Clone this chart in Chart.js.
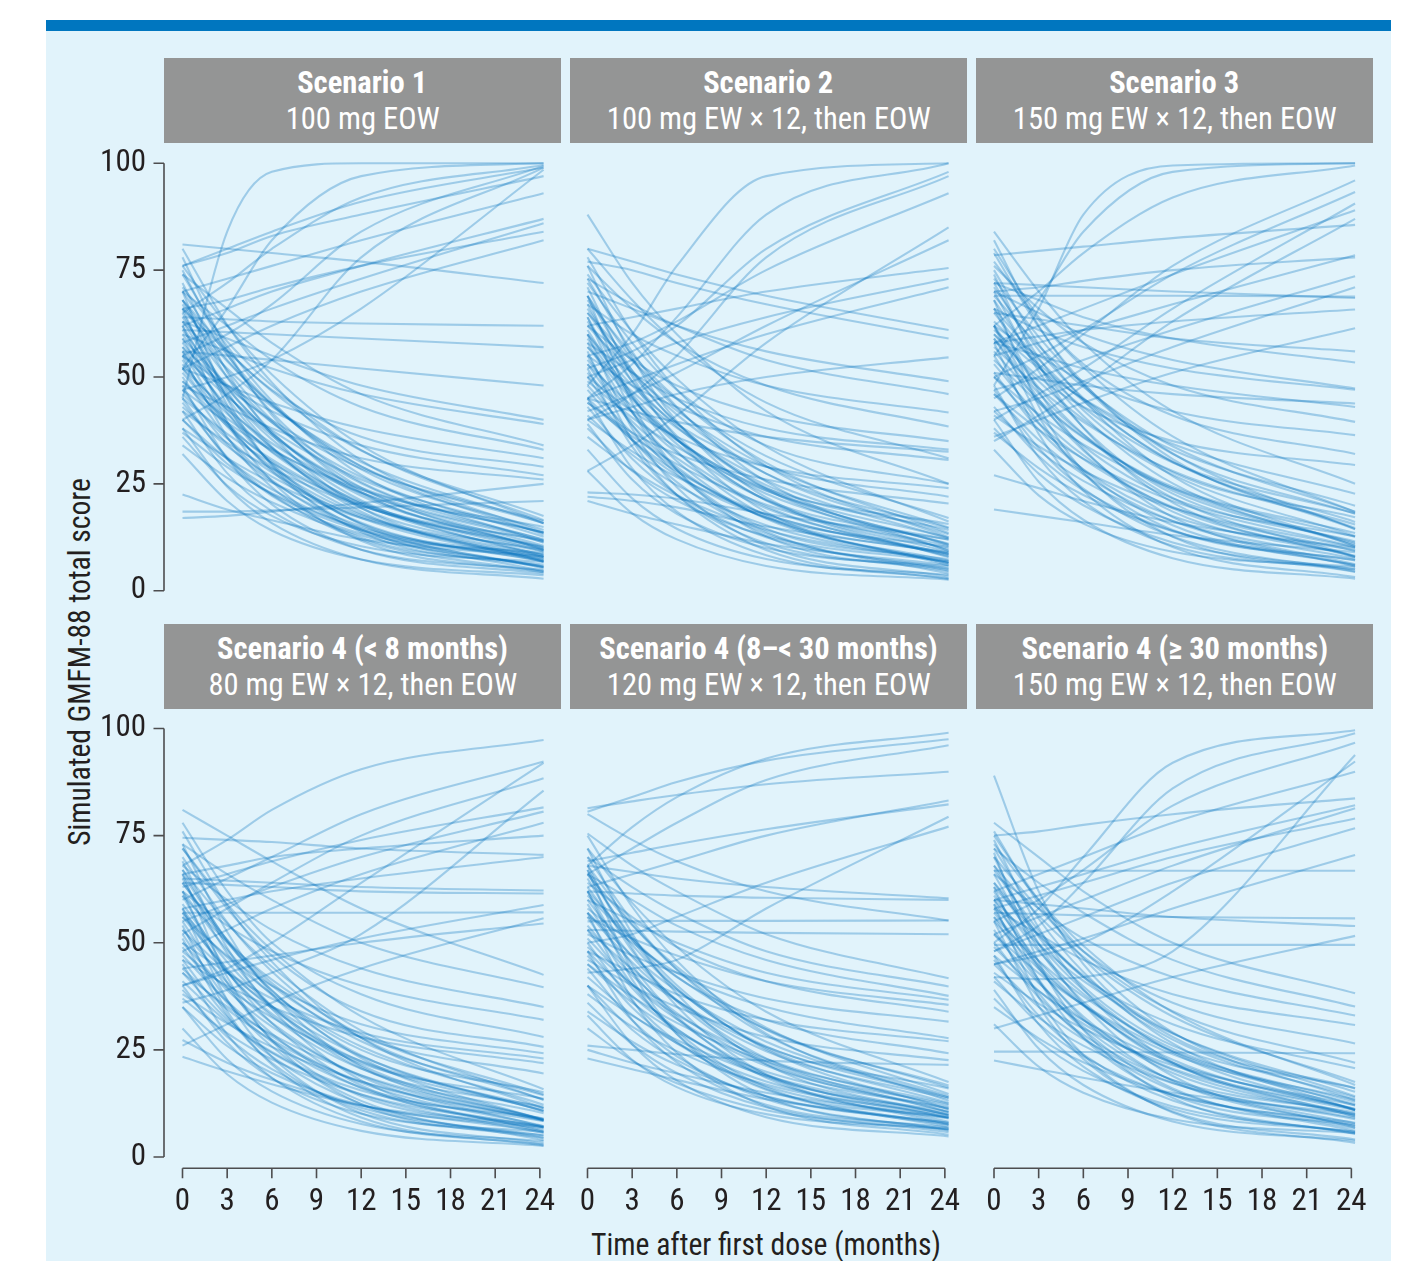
<!DOCTYPE html>
<html>
<head>
<meta charset="utf-8">
<script src="https://cdn.jsdelivr.net/npm/chart.js@4"></script>
<style>
  html, body { margin: 0; padding: 0; background: #ffffff; }
  body { width: 1406px; height: 1261px; position: relative; overflow: hidden; }
  #topbar { position: absolute; left: 46px; top: 20px; width: 1345px; height: 11px; background: #0076bf; }
  #panelbg { position: absolute; left: 46px; top: 31px; width: 1345px; height: 1230px; background: #e1f3fb; }
  .hdr { position: absolute; background: #949595; color: #ffffff; text-align: center;
         font-size: 32px; line-height: 36px; box-sizing: border-box; padding-top: 6px; white-space: nowrap; overflow: visible; }
  .ln { display: block; }
  .sx { display: inline-block; transform-origin: 50% 50%; }
  .cv { position: absolute; }
  #ytitle { position: absolute; left: 80px; top: 662px; font-size: 31px; line-height: 36px; color: #231f20; white-space: nowrap; }
  #xtitle { position: absolute; left: 766px; top: 1227px; font-size: 31px; line-height: 36px; color: #231f20; white-space: nowrap; }
</style>
</head>
<body>
<div id="topbar"></div>
<div id="panelbg"></div>
<div id="ytitle"></div>
<div id="xtitle"></div>
<script>
// ---------------- data ----------------
const TIMES = [0, 3, 6, 12, 24.25];
const X_TICKS = [0, 3, 6, 9, 12, 15, 18, 21, 24];
const Y_TICKS = [0, 25, 50, 75, 100];
const TITLES = ['Scenario 1', 'Scenario 2', 'Scenario 3',
  'Scenario 4 (< 8 months)', 'Scenario 4 (8\u2013< 30 months)', 'Scenario 4 (\u2265 30 months)'];
const SUBTITLES = ['100 mg EOW', '100 mg EW \u00d7 12, then EOW', '150 mg EW \u00d7 12, then EOW',
  '80 mg EW \u00d7 12, then EOW', '120 mg EW \u00d7 12, then EOW', '150 mg EW \u00d7 12, then EOW'];
const Y_TITLE = 'Simulated GMFM-88 total score';
const X_TITLE = 'Time after first dose (months)';

// each row: simulated score at TIMES (0, 3, 6, 12, 24 months)
const S1 = [
[45,84,98,100,100],[52,66,82,97,100],[65,72,80,92,99.6],[55,60,67,84,99.4],[40,46,54,78,99],
[47,50,54,66,98.5],[76,80,84,91,99],[76,79,83,88,97],[70,73,76,82,93],[62,66,70,76,87],[58,62,66,73,86],
[66,68,71,76,84],[52,57,62,70,82],[81,80,79,77,72],[64,63.5,63,62.5,62],[61,60.5,60,59,57],
[56,55,54,52,48],[63,59,55,48,40],[60,56,52,46,39],[74,66,58,46,34],[70,62,54,43,33],[52,48,44,38,31],
[66,56,47,36,29],[55,48,42,34,27],[48,43,38,31,26],[22.5,19,16.5,12,8],[18.5,18.5,18.8,19.5,21],[17,17.5,18.5,20.5,25],
[70,44.9,29.3,13.7,5.5],[62,39.5,25.6,11.7,4.3],[55,36,24.2,12.4,6.1],[48,30.9,20.2,9.6,4],[42,27.5,18.6,9.6,4.8],
[36,24.6,17.5,10.4,6.7],[32,21,14.1,7.3,3.6],[66,43.5,29.6,15.7,8.3],[45,30.9,22.2,13.4,8.8],[38,24.3,15.8,7.3,2.8],
[78,56.3,41.1,23.1,10],[72,51.2,36.6,19.4,6.9],[68,49.9,37.2,22.2,11.4],[65,46.6,33.7,18.5,7.4],[62,45.1,33.3,19.3,9.1],
[59,41.8,29.8,15.5,5.2],[57,42.5,32.4,20.4,11.7],[54,38.9,28.4,15.9,6.8],[52,38.4,28.9,17.7,9.5],[50,35.8,25.9,14.1,5.6],
[47,34.3,25.5,15,7.4],[44,31.3,22.5,12,4.4],[40,29.7,22.6,14.1,7.9],[75,55.4,41.7,25.4,13.6],[63,47.6,36.8,24.1,14.9],
[56,39.5,28,14.4,4.6],
[80,62.2,48.7,30.5,13.6],[74,57.2,44.4,27.1,11.2],[70,55.1,43.7,28.4,14.2],[67,51.6,39.9,24.1,9.5],[64,50,39.4,25.1,11.8],
[61,47.3,36.8,22.7,9.7],[58,45.7,36.3,23.7,12],[56,43.2,33.5,20.4,8.2],[53,41.4,32.6,20.7,9.6],[51,39.2,30.2,18,6.8],
[49,38.6,30.7,20,10.1],[46,35.6,27.7,17,7.1],[43,33.8,26.7,17.3,8.5],[40,30.8,23.7,14.3,5.5],[37,28.9,22.8,14.6,6.9],
[34,26.4,20.7,12.9,5.7],[68,54,43.4,29.1,15.8],[60,46,35.4,21.1,7.8],
[76,62,50.6,34,15.8],[71,58.3,48,32.9,16.5],[66,53.7,43.7,29.1,13.1],[63,52,43.1,30.1,15.8],[59,48.2,39.4,26.6,12.6],
[55,45.4,37.5,26,13.5],[52,42.4,34.5,23,10.5],[49,40.3,33.2,22.9,11.6],[45,36.7,29.9,20,9.2],[42,34.6,28.6,19.8,10.3],
[38,31,25.3,17,7.9],[68,56.3,46.7,32.8,17.5],[57,47.6,39.9,28.6,16.3],[47,39.3,32.9,23.7,13.6]
];
const S2 = [
[88,72,60,42,25],[48,60,76,97,100],[45,53,64,88,100],[52,56,62,80,98],[40,46,55,78,97],[55,58,63,75,93],
[28,34,41,58,85],[42,46,51,62,82],[62,64,66,70,75.5],[50,54,58,64,73],[45,49,53,60,71],[80,77,74,69,61],
[77,75,72,67,59],[40,43,46,50,54.6],[70,66,62,56,49],[73,67,62,54,46],[67,60,55,48,41.7],[76,66,58,48,38.4],
[62,54,48,41,35],[58,51,45,38,33],[45,42,39.5,36,32.5],[55,48,43,36,30.6],[72,58,47,34,25],[50,42,36,29,24],
[60,48,39,29,22],[44,37,32,26,20.4],[23,22.5,21.5,18,12],[22,21,19.5,15,9],[21,18,15.5,11,6],[80,68,58,44,31],
[69,43.9,28.3,12.7,4.5],[60,37.9,24.2,10.5,3.3],[52,33.7,22.4,11.1,5.1],[45,28.6,18.5,8.3,2.9],[39,26,18,10,5.7],
[33,21.6,14.5,7.4,3.7],[28,18.1,12,5.8,2.6],[64,41.9,28.2,14.5,7.3],[56,35.2,22.4,9.5,2.7],
[76,54.6,39.6,21.8,9],[71,50.2,35.6,18.4,5.9],[67,48.9,36.2,21.2,10.4],[64,45.6,32.7,17.5,6.4],[61,45.3,34.3,21.3,11.9],
[58,41.7,30.3,16.8,7],[55,38.7,27.3,13.8,4],[53,38.8,28.9,17.1,8.6],[50,35.5,25.4,13.4,4.7],[47,35.2,27,17.2,10.2],
[43,30.9,22.5,12.5,5.2],[38,28,21.1,12.8,6.8],[69,51.5,39.2,24.7,14.2],[59,45.1,35.4,23.9,15.6],
[78,60.5,47.1,29.2,12.5],[73,55.9,43,25.5,9.3],[69,54.1,42.7,27.4,13.2],[66,50.8,39.3,23.8,9.4],[63,49,38.4,24.1,10.8],
[60,46,35.4,21.1,7.8],[57,44.7,35.3,22.7,11],[54,41.7,32.3,19.7,8],[51,39.6,31,19.3,8.5],[48,36.9,28.4,17,6.4],
[45,35.3,27.9,17.9,8.7],[41,31.8,24.7,15.3,6.5],[36,28.2,22.2,14.2,6.8],[65,51.5,41.2,27.4,14.6],
[74,60.6,49.6,33.7,16.2],[68,55.3,45,29.9,13.5],[62,51,42.1,29.1,14.8],[57,46.6,38.1,25.8,12.2],[53,43.2,35.2,23.5,10.7],
[49,40.5,33.6,23.4,12.4],[44,36.1,29.6,20.1,9.8],[40,32.6,26.6,17.8,8.3],[65,53.8,44.8,31.5,17]
];
const S3 = [
[48,66,88,99.5,100],[55,68,84,98,100],[62,70,79,92,99.5],[78.5,79.5,80.5,82.5,85.6],[45,52,60,76,96],
[50,55,61,74,93.3],[40,46,52,66,90.6],[58,62,66,74,89],[35,41,48,63,87],[55,58,61,67,78.5],[70,71,72.5,75,78],
[47,50,54,61,73.6],[42,45,49,57,71],[69,69,69,69,68.8],[72,71.5,71,70,68.5],[58,59.5,61,63,65.8],[36,40,44,51,61.4],
[65,63.5,62,59,56],[72,68,64,59,53.4],[70,65,60,54,47.3],[66,61,57,52,47],[51,49.5,48,46,43.8],[58,55,52,48,43],
[76,66,58,48,39.5],[62,55,49,42,36.4],[80,64,53,41,32],[60,50,43,35,29.4],[84,70,58,42,25],[82,62,48,32,18],
[19,17.5,16,13,9],[27,24,21,16,10],
[68,43.2,27.9,12.6,4.4],[58,36.7,23.4,10.2,3.2],[48,31.2,20.9,10.5,5],[40,25.5,16.6,7.6,2.8],[33,22.3,15.7,9.1,5.6],
[62,40.7,27.4,14.2,7.2],
[74,52.9,38.1,20.6,7.9],[70,51.3,38.2,22.7,11.5],[66,46.7,33.2,17.2,5.6],[62,44.8,32.8,18.5,8.2],[59,44.2,33.9,21.6,12.7],
[55,39.3,28.3,15.3,5.9],[51,37.7,28.4,17.4,9.5],[47,33.4,23.9,12.7,4.5],[43,31.5,23.5,14,7.1],[38,27.4,20,11.3,5],
[72,54.5,42.2,27.7,17.2],
[79,61.7,48.6,30.8,14.4],[75,57.7,44.6,26.8,10.4],[71,56.3,45.1,30.1,16.1],[68,52.6,40.9,25.1,10.5],[65,52.4,42.9,30,18.1],
[62,47.5,36.6,21.7,8],[59,46.2,36.5,23.4,11.2],[56,44.6,36,24.3,13.5],[53,40.9,31.7,19.3,7.9],[50,39.1,30.8,19.6,9.3],
[46,35.3,27.2,16.3,6.2],[42,32.8,25.7,16.3,7.5],[37,28.7,22.4,13.9,6],
[77,63.4,52.3,36.1,18.4],[73,59.4,48.3,32.1,14.4],[69,57.3,47.7,33.8,18.5],[66,54.1,44.4,30.2,14.7],[63,53,44.8,32.9,19.9],
[60,49,40.1,27.1,12.8],[57,47.4,39.5,28,15.5],[54,44,35.8,23.9,10.9],[50,41.3,34.2,23.9,12.6],[46,37.7,30.9,21,10.2],
[41,33.8,28,19.4,10.1],[61,52.1,44.9,34.3,22.7]
];
const S4 = [
[68,74,81,90.5,97.3],[40,44,50,64,92],[60,65,70,80,92.3],[52,58,64,75,88.4],[36,39,43,52,85.5],[63,66,69,74,81.6],
[55,59,63,70,80.6],[48,53,58,66,78],[66,68,70,72,75],[74.5,74,73.5,72,70.5],[58,60,62,65,70],[65,64.5,64,63,62.2],
[64,63.5,63,62,61.5],[40,43,46,51,58.8],[57,57,57,57,57.1],[26,31,36,44,55.7],[44,45.5,47,50,54.5],[81,75,69,58,42.5],
[73,66,60,50,39.6],[68,60,53,44,35],[62,54,48,40,32],[78,62,50,38,28],[72,58,47,34,25.7],[56,47,40,31,24.2],
[50,43,37,29,23],[46,40,35,28,21.9],[64,50,40,28,19.5],[27.3,22,18,12,6],[23.4,20,17,12,7],
[66,42,27.1,12.3,4.4],[58,36.7,23.4,10.2,3.2],[51,33.1,22,10.9,5],[45,28.6,18.5,8.3,2.9],[40,26.7,18.4,10.1,5.8],
[35,22.8,15.3,7.7,3.7],[30,19.3,12.7,6.1,2.6],[62,40.7,27.4,14.2,7.2],[54,34,21.6,9.2,2.7],
[73,52.5,38.1,21.1,8.8],[69,48.8,34.6,17.9,5.8],[65,47.5,35.2,20.7,10.2],[61,43.5,31.2,16.7,6.2],[58,43.2,32.9,20.6,11.7],
[55,39.6,28.8,16.1,6.9],[52,36.6,25.8,13.1,3.9],[49,36,26.9,16.2,8.4],[46,32.7,23.4,12.4,4.5],[43,32.1,24.5,15.5,9],
[39,28.1,20.5,11.5,5],[35,25.9,19.6,12.1,6.7],[67,50.4,38.8,25,15.1],[57,43.1,33.4,21.9,13.6],
[76,58.7,45.6,27.8,11.4],[70,54.8,43.3,27.8,13.4],[66,50.6,38.9,23.1,8.5],[62,48.3,37.8,23.7,10.7],[59,45.5,35.2,21.4,8.6],
[56,43.9,34.7,22.3,10.9],[53,40.7,31.3,18.7,7],[50,38.9,30.4,19,8.4],[47,36.3,28.2,17.3,7.2],[44,34.5,27.3,17.6,8.6],
[41,31.5,24.3,14.6,5.6],[37,28.9,22.8,14.6,6.9],[64,50.7,40.6,27,14.4],
[72,59,48.3,32.8,15.8],[67,54.5,44.4,29.5,13.3],[61,50.2,41.4,28.6,14.6],[57,46.6,38.1,25.8,12.2],[53,43.2,35.2,23.5,10.7],
[48,39.5,32.6,22.4,11.4],[43,35.1,28.6,19.1,8.8],[38,31.2,25.7,17.6,8.7]
];
const S5 = [
[81.4,83,84.5,87,89.9],[80.6,84,87.5,92.5,97.5],[80,74,69,62,55.2],[68,77,84,93,99],[66,72,78,88,96.1],
[69,71,73,76.5,82.3],[63,66,69,75,83.2],[43,44,46,58,79.4],[50,52,56,64,77.1],[68,66.5,65,63,60.4],[62,61.5,61,60.5,60],
[55,55,55.1,55.1,55.2],[53,52.8,52.6,52.3,52],[75.5,68,62,52,41.7],[70,63,57,48,39.8],[66,60,54,46,37.6],
[60,55,50,43,36.7],[56,51,47,41,35.5],[64,56,49,41,33.9],[52,47,43,37,31.6],[58,50,43,35,27.7],[48,43,38,32,27],
[62,51,42,32,24.2],[46,40,35,28,22.6],[26,25,24,22.5,21.5],[25,22,19.5,15,9],[23,20.5,18,13.5,8],
[67,43.4,28.7,14.1,6.4],[57,36.8,24.3,11.8,5.2],[48,32,22.1,12.2,6.9],[40,26.3,17.8,9.3,4.8],[33,22.7,16.3,10,6.6],
[62,41.4,28.7,15.9,9.2],
[72,52.1,38.1,21.6,9.7],[68,48.7,35.2,19.2,7.6],[65,48.1,36.3,22.3,12.1],[62,44.8,32.8,18.5,8.2],[59,43.3,32.3,19.3,9.9],
[56,40.3,29.3,16.3,6.9],[53,39.4,29.9,18.7,10.5],[50,36.4,26.9,15.7,7.5],[47,34.9,26.5,16.5,9.2],[44,31.9,23.5,13.5,6.2],
[40,29.7,22.6,14.1,7.9],[36,26.3,19.6,11.6,5.8],[67,50.7,39.3,25.8,16],[30,22.5,17.2,10.9,6.4],
[75,58.4,45.8,28.8,13.1],[70,55.1,43.7,28.4,14.2],[66,51.3,40.1,25.1,11.1],[63,49.5,39.2,25.4,12.6],[60,46.7,36.6,23,10.4],
[57,45.4,36.6,24.7,13.6],[54,42.4,33.6,21.7,10.6],[51,40.3,32.2,21.3,11.2],[48,37.6,29.7,19,9.1],[45,36,29.2,19.9,11.4],
[42,33.2,26.6,17.6,9.3],[38,30.4,24.7,16.9,9.7],[68,54.3,43.8,29.7,16.7],[34,26.9,21.5,14.2,7.5],
[72,59.3,49,33.9,17.5],[66,54.1,44.4,30.2,14.7],[61,50.6,42.1,29.8,16.2],[57,47,38.8,26.9,13.9],[53,43.9,36.5,25.7,13.9],
[49,40.3,33.2,22.9,11.6],[45,37.4,31.3,22.3,12.4],[40,33,27.3,19,9.9]
];
const S6 = [
[89,62,45,28,16],[50,58,70,92,99.6],[48,54,64,86,98.9],[55,60,67,82,96.7],[42,41.5,42,48,93.8],[45,47,50,62,92.3],
[62,66,70,78,89.9],[75,76,77.5,80,83.7],[60,63,66,72,82.1],[52,56,60,68,81.4],[58,61,64,70,79],[48,52,56,64,76.7],
[45,48,51,58,70.5],[66.8,66.8,66.8,66.8,66.8],[57,56.7,56.4,56,55.7],[60,59,58,56,53.9],[30,33,36,42,51.6],
[49.5,49.5,49.5,49.5,49.5],[78,70,62,50,38.2],[72,64,57,46,35.1],[66,58,51,42,33],[58,52,46,38,30.8],[70,58,48,36,26.5],
[64,52,42,31,20.7],[24.6,24.6,24.5,24.4,24.2],[22.5,20.5,18.5,15,10],[75,60,48,34,22],
[71,45.5,29.7,13.8,5.5],[63,41.3,27.8,14.4,7.3],[55,35.2,22.9,10.6,4.1],[47,31,21.1,11.2,5.9],[39,25.3,16.8,8.3,3.8],
[31,21.1,15,8.8,5.6],[59,37.3,23.8,10.4,3.3],
[74,53.5,39.1,22.1,9.8],[70,49.8,35.6,18.9,6.8],[66,48.5,36.2,21.7,11.2],[62,44.5,32.2,17.7,7.2],[60,44,32.8,19.6,10],
[58,41.4,29.8,16,6.1],[56,40.9,30.4,17.9,8.8],[53,38.2,27.9,15.6,6.7],[50,37.3,28.5,18,10.4],[46,33,23.9,13.2,5.4],
[42,31.1,23.5,14.5,8],[37,27,20.1,11.8,5.8],[68,51.4,39.8,26,16.1],
[76,59.2,46.4,29.1,13.2],[72,55.6,43.2,26.5,10.9],[67,52.8,42,27.4,13.9],[64,49.8,39,24.4,10.9],[61,48,38.1,24.7,12.3],
[59,45.7,35.6,22,9.4],[57,44.7,35.3,22.7,11],[55,43.9,35.4,24,13.4],[52,40.6,32,20.3,9.5],[49,38.8,31.1,20.6,10.9],
[45,35,27.5,17.3,7.8],[41,32.5,26,17.2,9.1],[35,27.7,22.1,14.5,7.6],
[73,60,49.3,33.8,16.8],[68,56.3,46.7,32.8,17.5],[63,51.7,42.4,28.9,14.2],[60,49.6,41.1,28.8,15.2],[56,45.8,37.5,25.3,12],
[52,42.9,35.5,24.7,12.9],[47,38.7,31.9,22,11.2],[43,35.8,30,21.4,12.1]
];
const SERIES = [S1, S2, S3, S4, S5, S6];

// ---------------- fonts (pick a condensed face if one is installed) ----------------
const mctx = document.createElement('canvas').getContext('2d');
function textW(font, txt) { mctx.font = '10px monospace'; mctx.font = font; return mctx.measureText(txt).width; }
const PROBE = 'Scenario 100 mg EW months 0123456789';
function hasFamily(f) {
  return textW('40px "' + f + '", monospace', PROBE) !== textW('40px monospace', PROBE) ||
         textW('40px "' + f + '", serif', PROBE) !== textW('40px serif', PROBE);
}
let FAMILY = null, STRETCH = '', HSCALE = 1;
for (const f of ['Roboto Condensed', 'Liberation Sans Narrow', 'Arial Narrow', 'Open Sans Condensed',
                 'Noto Sans Condensed', 'DejaVu Sans Condensed', 'Ubuntu Condensed']) {
  if (hasFamily(f)) { FAMILY = f; break; }
}
if (!FAMILY) {
  for (const f of ['Roboto', 'Noto Sans', 'Open Sans']) {
    if (!hasFamily(f)) continue;
    const ratio = textW('condensed 40px "' + f + '"', PROBE) / textW('40px "' + f + '"', PROBE);
    if (ratio > 0.7 && ratio < 0.95) { FAMILY = f; STRETCH = 'condensed'; break; }
  }
}
if (!FAMILY) FAMILY = 'Liberation Sans';
const CSS_FAMILY = '"' + FAMILY + '", "Liberation Sans", Arial, sans-serif';
const PREFIX = STRETCH ? STRETCH + ' ' : '';
HSCALE = Math.min(1.15, Math.max(0.65, 154 / textW(PREFIX + '32px ' + CSS_FAMILY, '100 mg EOW')));
const TICK_SIZE = Math.min(31, Math.max(27, 46 * 100 / textW(PREFIX + '100px ' + CSS_FAMILY, '100')));

document.body.style.fontFamily = CSS_FAMILY;
if (STRETCH) document.body.style.fontStretch = STRETCH;

function squeezed(text) {
  const s = document.createElement('span');
  s.className = 'sx';
  s.style.transform = 'scaleX(' + HSCALE + ')';
  s.textContent = text;
  return s;
}

// ---------------- layout / style ----------------
const TEXT_COLOR = '#231f20';
const AXIS_COLOR = '#4d4d4f';
const LINE_COLOR = 'rgba(0, 114, 189, 0.3)';
const COL_X0 = [182.5, 587.5, 994];
const PX_PER_MONTH = 14.89;
const ROW_Y100 = [163.3, 728.5];
const ROW_Y0 = [590.7, 1157];
const HDR_LEFT = [164, 570, 976];
const HDR_W = 397;
const HDR_TOP = [58.3, 624.3];
const HDR_H = 84.4;
const PL = 130, PT = 60, PR = 60, PB = 85;
const YAX_W = 110, XAX_H = 75;

const yt = document.getElementById('ytitle');
yt.textContent = Y_TITLE;
yt.style.transform = 'translate(-50%, -50%) rotate(-90deg) scaleX(' + HSCALE + ')';
const xt = document.getElementById('xtitle');
xt.textContent = X_TITLE;
xt.style.transform = 'translateX(-50%) scaleX(' + HSCALE + ')';

const axisLines = {
  id: 'axisLines',
  afterDraw(chart, args, opts) {
    const { ctx, chartArea: a, scales } = chart;
    const x = scales.x, y = scales.y;
    ctx.save();
    ctx.strokeStyle = AXIS_COLOR;
    ctx.lineWidth = 1.6;
    ctx.beginPath();
    if (opts.showY) {
      const ax = a.left - 18.5;
      ctx.moveTo(ax, y.getPixelForValue(Y_TICKS[0]));
      ctx.lineTo(ax, y.getPixelForValue(Y_TICKS[Y_TICKS.length - 1]));
      Y_TICKS.forEach(v => { const p = y.getPixelForValue(v); ctx.moveTo(ax, p); ctx.lineTo(ax - 10.5, p); });
    }
    if (opts.showX) {
      const ay = a.bottom + 11.3;
      ctx.moveTo(x.getPixelForValue(X_TICKS[0]), ay);
      ctx.lineTo(x.getPixelForValue(X_TICKS[X_TICKS.length - 1]), ay);
      X_TICKS.forEach(v => { const p = x.getPixelForValue(v); ctx.moveTo(p, ay); ctx.lineTo(p, ay + 10); });
    }
    ctx.stroke();
    ctx.restore();
  }
};

for (let i = 0; i < 6; i++) {
  const r = Math.floor(i / 3), c = i % 3;
  const h = document.createElement('div');
  h.className = 'hdr';
  h.style.left = HDR_LEFT[c] + 'px';
  h.style.top = HDR_TOP[r] + 'px';
  h.style.width = HDR_W + 'px';
  h.style.height = HDR_H + 'px';
  const l1 = document.createElement('div'); l1.className = 'ln'; l1.style.fontWeight = 'bold';
  l1.appendChild(squeezed(TITLES[i]));
  const l2 = document.createElement('div'); l2.className = 'ln';
  l2.appendChild(squeezed(SUBTITLES[i]));
  h.appendChild(l1); h.appendChild(l2);
  document.body.appendChild(h);

  const areaW = PX_PER_MONTH * TIMES[TIMES.length - 1];
  const areaH = ROW_Y0[r] - ROW_Y100[r];
  const left = Math.floor(COL_X0[c] - PL);
  const top = Math.floor(ROW_Y100[r] - PT);
  const padL = COL_X0[c] - left;
  const padT = ROW_Y100[r] - top;
  const W = Math.ceil(padL + areaW + PR);
  const H = Math.ceil(padT + areaH + PB);
  const padR = W - padL - areaW;
  const padB = H - padT - areaH;
  const showY = c === 0, showX = r === 1;

  const wrap = document.createElement('div');
  wrap.className = 'cv';
  wrap.style.left = left + 'px'; wrap.style.top = top + 'px';
  wrap.style.width = W + 'px'; wrap.style.height = H + 'px';
  const cv = document.createElement('canvas');
  cv.width = W; cv.height = H;
  cv.style.width = W + 'px'; cv.style.height = H + 'px';
  wrap.appendChild(cv);
  document.body.appendChild(wrap);

  const datasets = SERIES[i].map(vals => ({
    data: vals.map((v, k) => ({ x: TIMES[k], y: v })),
    borderColor: LINE_COLOR,
    borderWidth: 2.1,
    pointRadius: 0,
    fill: false,
    cubicInterpolationMode: 'monotone',
    clip: false
  }));

  const tickFont = { family: CSS_FAMILY, size: TICK_SIZE };
  if (STRETCH) tickFont.weight = STRETCH;

  new Chart(cv, {
    type: 'line',
    data: { datasets },
    plugins: [axisLines],
    options: {
      responsive: false,
      animation: false,
      events: [],
      layout: {
        autoPadding: false,
        padding: { left: padL - (showY ? YAX_W : 0), top: padT, right: padR, bottom: padB - (showX ? XAX_H : 0) }
      },
      plugins: { legend: { display: false }, tooltip: { enabled: false }, axisLines: { showX, showY } },
      scales: {
        x: {
          type: 'linear', min: 0, max: TIMES[TIMES.length - 1], display: showX,
          grid: { display: false, drawTicks: true, tickLength: 45 - TICK_SIZE * 0.6 }, border: { display: false },
          afterBuildTicks: sc => { sc.ticks = X_TICKS.map(v => ({ value: v })); },
          afterFit: showX ? (sc => { sc.height = XAX_H; }) : undefined,
          ticks: { padding: 0, maxRotation: 0, minRotation: 0, autoSkip: false, color: TEXT_COLOR, font: tickFont }
        },
        y: {
          type: 'linear', min: 0, max: 100, display: showY,
          grid: { display: false, drawTicks: true, tickLength: 36.5 }, border: { display: false },
          afterBuildTicks: sc => { sc.ticks = Y_TICKS.map(v => ({ value: v })); },
          afterFit: showY ? (sc => { sc.width = YAX_W; }) : undefined,
          ticks: { padding: 0, color: TEXT_COLOR, font: tickFont }
        }
      }
    }
  });
}
</script>
</body>
</html>
